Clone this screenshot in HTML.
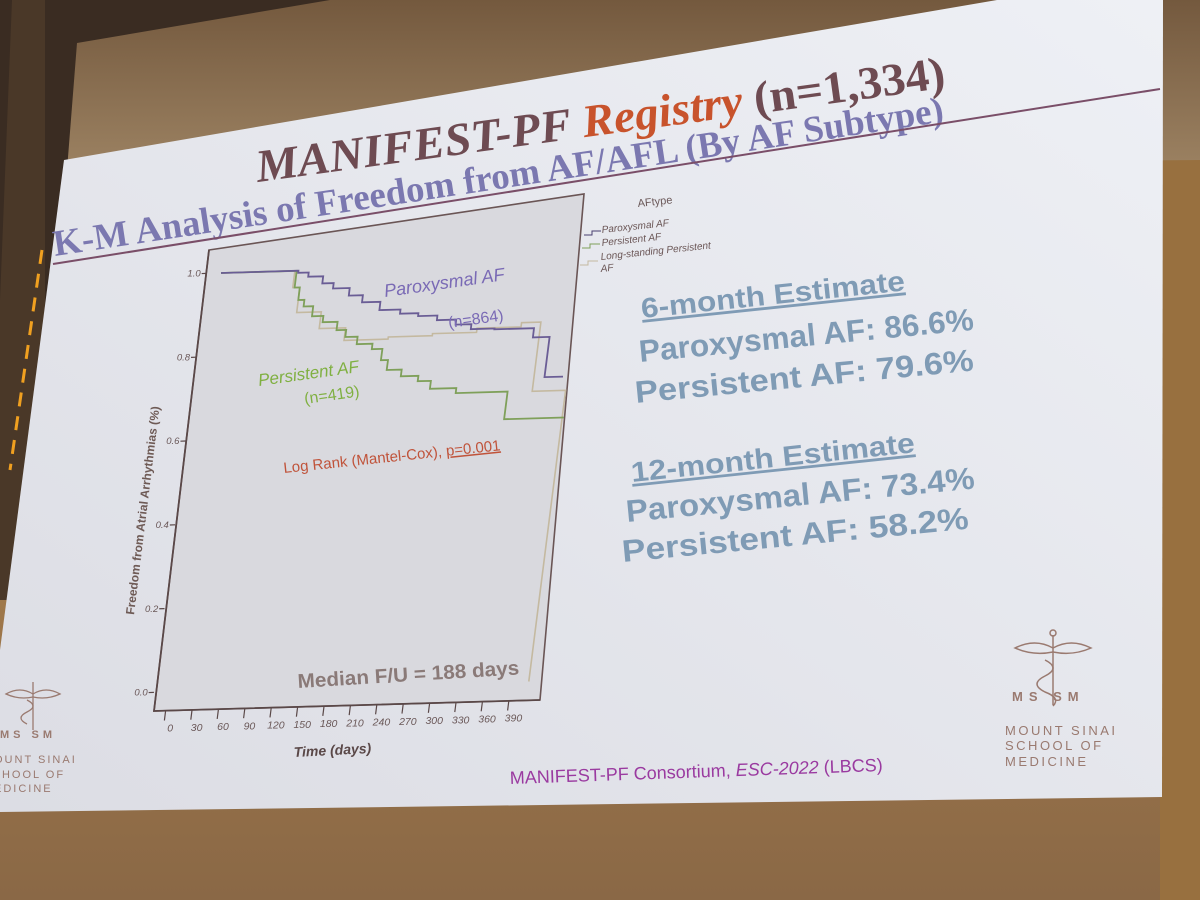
<!DOCTYPE html>
<html><head><meta charset="utf-8">
<style>
html,body{margin:0;padding:0;width:1200px;height:900px;overflow:hidden;background:#3a2c22;}
svg{display:block;}
text{font-family:"Liberation Sans",sans-serif;}
text.serif{font-family:"Liberation Serif",serif;}
</style></head>
<body>
<svg id="scene" width="1200" height="900" viewBox="0 0 1200 900">
<defs>
<linearGradient id="wall" x1="0" y1="0" x2="0" y2="1">
<stop offset="0" stop-color="#a27a4b"/><stop offset="1" stop-color="#8a6846"/></linearGradient>
<linearGradient id="slidebg" x1="1" y1="0" x2="0" y2="1">
<stop offset="0" stop-color="#eef0f5"/><stop offset="1" stop-color="#dcdde4"/></linearGradient>
<linearGradient id="screentop" x1="0" y1="0" x2="0" y2="1">
<stop offset="0" stop-color="#74593e"/><stop offset="1" stop-color="#9c8262"/></linearGradient>
</defs>
<rect x="0" y="0" width="1200" height="900" fill="#3a2c22"/>
<rect x="0" y="560" width="1200" height="340" fill="url(#wall)"/>
<rect x="1160" y="0" width="40" height="900" fill="#98703f"/>
<rect x="1160" y="0" width="40" height="160" fill="#6e5438"/>
<polygon points="77,43 330,0 1200,0 1200,160 67,170" fill="url(#screentop)"/>
<polygon points="12,0 45,0 45,600 0,600 0,300" fill="#4a3828"/>
<line x1="42" y1="250" x2="10" y2="470" stroke="#f0a020" stroke-width="3" stroke-dasharray="14,10"/>
<polygon points="64,160 997,0 1163,0 1162,797 0,812 0,650" fill="url(#slidebg)"/>
<g id="chart"></g>
</svg>
<script>
const NS='http://www.w3.org/2000/svg';
const chart=document.getElementById('chart');
function mk(tag,attrs,parent,txt){const e=document.createElementNS(NS,tag);for(const k in attrs)e.setAttribute(k,attrs[k]);if(txt!==undefined)e.textContent=txt;parent.appendChild(e);return e;}

// ---- data ----
const xTicks=[0,30,60,90,120,150,180,210,240,270,300,330,360,390];
const yTicks=[0.0,0.2,0.4,0.6,0.8,1.0];
const yTickLabels=['0.0','0.2','0.4','0.6','0.8','1.0'];
const parDays=[0,88,100,117,130,149,165,186,210,231,253,275,293,320,365,384];
const parSurv=[1.0,0.995,0.985,0.968,0.955,0.937,0.92,0.90,0.89,0.883,0.872,0.86,0.848,0.846,0.824,0.728];
const parEnd=405;
const perDays=[0,86,92,99,110,123,140,151,165,183,195,203,220,240,255,285,344];
const perSurv=[1.0,0.96,0.93,0.914,0.89,0.875,0.855,0.838,0.82,0.807,0.78,0.756,0.74,0.727,0.708,0.696,0.63];
const perEnd=412;
const lsDays=[0,84,92,120,150,200,250,300,350,372,410];
const lsSurv=[1.0,0.96,0.90,0.86,0.83,0.835,0.84,0.85,0.86,0.695,0.0];
const lsEnd=410;

function px(d,s){return [168+0.88*d+53*s, 692-0.0256*d-419*s];}

const frame=mk('polygon',{points:'209,250 584,194 540,700 154,711',fill:'#d9d9de',stroke:'#6a5555','stroke-width':1.6},chart);


const axes=mk('polyline',{points:'209,250 154,711 540,700',fill:'none',stroke:'#5a4848','stroke-width':1.8},chart);



xTicks.forEach(function(t){
  const a=px(t,-0.045),b=px(t,-0.068),l=px(t,-0.09);
  const ln=mk('line',{x1:a[0],y1:a[1],x2:b[0],y2:b[1],stroke:'#5a4848','stroke-width':1.2},chart);
  
  
  const tx=mk('text',{x:l[0]+7,y:l[1]+2,'font-size':10.5,'font-style':'italic',fill:'#6a5858','text-anchor':'middle'},chart,String(t));
  
  
});
yTicks.forEach(function(v,i){
  const a=px(-16,v),b=px(-22,v);
  const ln=mk('line',{x1:a[0],y1:a[1],x2:b[0],y2:b[1],stroke:'#5a4848','stroke-width':1.2},chart);
  
  
  const tx=mk('text',{x:b[0]-1,y:b[1]+3,'font-size':9.5,'font-style':'italic',fill:'#6a5858','text-anchor':'end'},chart,yTickLabels[i]);
  
  
});

function stepPath(days,surv,end){
  let p=[];
  for(let i=0;i<days.length;i++){
    if(i>0){p.push(px(days[i],surv[i-1]));}
    p.push(px(days[i],surv[i]));
  }
  p.push(px(end,surv[surv.length-1]));
  return p.map(function(q){return q[0].toFixed(1)+','+q[1].toFixed(1);}).join(' ');
}
const ls=mk('polyline',{points:stepPath(lsDays,lsSurv,lsEnd),fill:'none',stroke:'#c4b9a0','stroke-width':1.6},chart);


const per=mk('polyline',{points:stepPath(perDays,perSurv,perEnd),fill:'none',stroke:'#7fa05a','stroke-width':1.8},chart);


const par=mk('polyline',{points:stepPath(parDays,parSurv,parEnd),fill:'none',stroke:'#6a5d95','stroke-width':1.8},chart);


</script>

<svg width="1200" height="900" viewBox="0 0 1200 900" style="position:absolute;left:0;top:0">
<text class="serif" x="258" y="182" font-size="46" font-weight="bold" font-style="italic" fill="#6e4b52" transform="rotate(-7.8 258 182)" textLength="695" lengthAdjust="spacingAndGlyphs">MANIFEST-PF <tspan fill="#c8532c">Registry</tspan> <tspan font-style="normal">(n=1,334)</tspan></text>
<text class="serif" x="55" y="256" font-size="37" font-weight="bold" fill="#7b78b0" transform="rotate(-8.6 55 256)" textLength="900" lengthAdjust="spacingAndGlyphs">K-M Analysis of Freedom from AF/AFL (By AF Subtype)</text>
<line x1="53" y1="264" x2="1160" y2="89" stroke="#7a4e68" stroke-width="2"/>

<text x="638" y="207" font-size="11" fill="#6a5858" transform="rotate(-6 638 207)">AFtype</text>
<g fill="#6a5555">
<path d="M584,235 l8,0 l0,-4 l9,0" stroke="#4a4070" fill="none"/>
<text x="602" y="233" font-size="10" font-style="italic" transform="rotate(-6 602 233)">Paroxysmal AF</text>
<path d="M582,248 l8,0 l0,-4 l10,0" stroke="#7fa05a" fill="none"/>
<text x="602" y="246" font-size="10" font-style="italic" transform="rotate(-6 602 246)">Persistent AF</text>
<path d="M580,265 l8,0 l0,-4 l10,0" stroke="#c4b9a0" fill="none"/>
<text x="601" y="260" font-size="10" font-style="italic" transform="rotate(-6 601 260)">Long-standing Persistent</text>
<text x="601" y="272" font-size="10" font-style="italic" transform="rotate(-6 601 272)">AF</text>
</g>

<text x="385" y="297" font-size="18" font-style="italic" fill="#7a6ab5" transform="rotate(-8 385 297)">Paroxysmal AF</text>
<text x="449" y="328" font-size="16" fill="#7a6ab5" transform="rotate(-8 449 328)">(n=864)</text>
<text x="259" y="386" font-size="17" font-style="italic" fill="#80b042" transform="rotate(-8 259 386)">Persistent AF</text>
<text x="305" y="404" font-size="16" fill="#80b042" transform="rotate(-8 305 404)">(n=419)</text>
<text x="284" y="473" font-size="15" fill="#c0533a" transform="rotate(-6 284 473)">Log Rank (Mantel-Cox), <tspan text-decoration="underline">p=0.001</tspan></text>
<text x="298" y="688" font-size="20" font-weight="bold" fill="#8a7a78" transform="rotate(-3.5 298 688)" textLength="222" lengthAdjust="spacingAndGlyphs">Median F/U = 188 days</text>
<text x="134" y="615" font-size="12" font-weight="bold" fill="#6e5a55" transform="rotate(-83 134 615)">Freedom from Atrial Arrhythmias (%)</text>
<text x="294" y="757" font-size="14" font-weight="bold" font-style="italic" fill="#5a4848" transform="rotate(-3 294 757)">Time (days)</text>

<g fill="#7f9bb5">
<text x="642" y="318" font-size="28" font-weight="bold" text-decoration="underline" transform="rotate(-6 642 318)" textLength="265" lengthAdjust="spacingAndGlyphs">6-month Estimate</text>
<text x="640" y="362" font-size="31" font-weight="bold" transform="rotate(-5.5 640 362)" textLength="336" lengthAdjust="spacingAndGlyphs">Paroxysmal AF: 86.6%</text>
<text x="636" y="403" font-size="31" font-weight="bold" transform="rotate(-5.5 636 403)" textLength="340" lengthAdjust="spacingAndGlyphs">Persistent AF: 79.6%</text>
<text x="632" y="482" font-size="28" font-weight="bold" text-decoration="underline" transform="rotate(-6 632 482)" textLength="285" lengthAdjust="spacingAndGlyphs">12-month Estimate</text>
<text x="627" y="522" font-size="31" font-weight="bold" transform="rotate(-5.5 627 522)" textLength="350" lengthAdjust="spacingAndGlyphs">Paroxysmal AF: 73.4%</text>
<text x="623" y="562" font-size="31" font-weight="bold" transform="rotate(-5.5 623 562)" textLength="348" lengthAdjust="spacingAndGlyphs">Persistent AF: 58.2%</text>
</g>

<text x="510" y="784" font-size="18" fill="#9a3aa0" transform="rotate(-2 510 784)">MANIFEST-PF Consortium, <tspan font-style="italic">ESC-2022</tspan> (LBCS)</text>

<g fill="none" stroke="#9a7a70" stroke-width="1.5">
<path d="M1015,648 q20,-10 38,0 q18,-10 38,0 q-18,8 -38,4 q-20,4 -38,-4z"/>
<line x1="1053" y1="635" x2="1053" y2="705"/>
<path d="M1045,660 q16,8 0,16 q-16,8 0,16 q16,6 8,14"/>
<circle cx="1053" cy="633" r="3"/>
</g>
<g fill="#9a7a70">
<text x="1012" y="701" font-size="13" letter-spacing="6" font-weight="bold">MS SM</text>
<text x="1005" y="735" font-size="13" letter-spacing="2.5">MOUNT SINAI</text>
<text x="1005" y="750" font-size="13" letter-spacing="2.5">SCHOOL OF</text>
<text x="1005" y="766" font-size="13" letter-spacing="2.5">MEDICINE</text>
</g>
<g fill="none" stroke="#9a7a70" stroke-width="1.3">
<path d="M6,694 q14,-8 27,0 q13,-8 27,0 q-13,6 -27,3 q-14,3 -27,-3z"/>
<line x1="33" y1="682" x2="33" y2="730"/>
<path d="M27,700 q12,6 0,12 q-12,6 0,12"/>
</g>
<g fill="#9a7a70">
<text x="0" y="738" font-size="11" letter-spacing="4" font-weight="bold">MS SM</text>
<text x="-6" y="763" font-size="11" letter-spacing="2">OUNT SINAI</text>
<text x="-8" y="778" font-size="11" letter-spacing="2">CHOOL OF</text>
<text x="-6" y="792" font-size="11" letter-spacing="2">EDICINE</text>
</g>
</svg>
</body></html>
